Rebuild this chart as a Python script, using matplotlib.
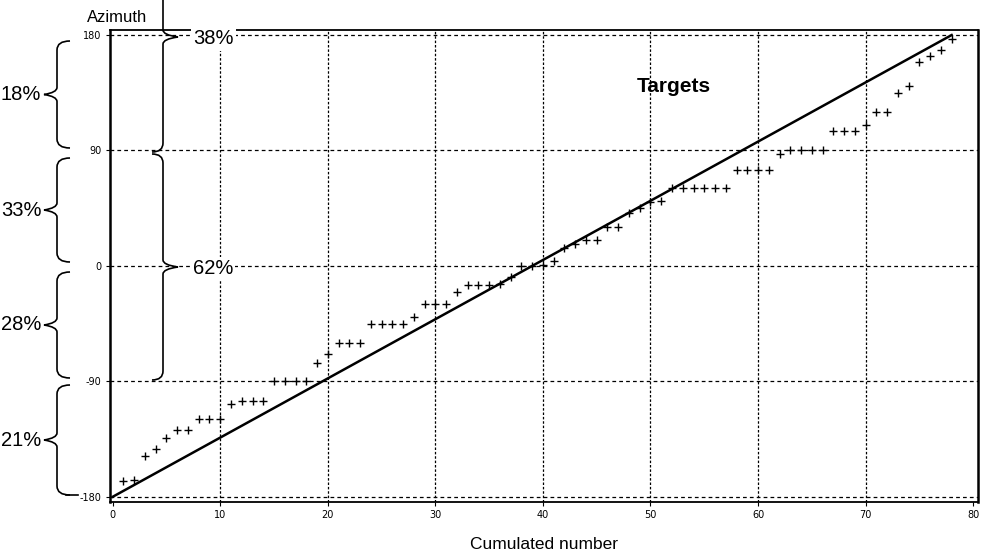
import numpy as np
import matplotlib
matplotlib.use("Agg")
import matplotlib.pyplot as plt
from matplotlib.path import Path
from matplotlib.patches import PathPatch

# --- DATA ---
# sorted target azimuths (deg), one per cumulated target
azimuth = [
    -168, -167, -148, -143, -134, -128, -128, -119, -119, -119,
    -108, -105, -105, -105, -90, -90, -90, -90, -76, -69,
    -60, -60, -60, -45, -45, -45, -45, -40, -30, -30,
    -30, -20, -15, -15, -15, -14, -9, 0, 0, 1,
    4, 14, 17, 20, 20, 30, 30, 41, 45, 50,
    51, 61, 61, 61, 61, 61, 61, 75, 75, 75,
    75, 87, 90, 90, 90, 90, 105, 105, 105, 110,
    120, 120, 135, 140, 159, 164, 168, 177,
]
x_ticks = [0, 10, 20, 30, 40, 50, 60, 70, 80]
y_ticks = [-180, -90, 0, 90, 180]
y_tick_labels = ["-180", "-90", "0", "90", "180"]

# share of targets per 90 deg sector (bottom to top) and per half
sector_pct = ["21%", "28%", "33%", "18%"]
half_pct = ["62%", "38%"]

n_targets = len(azimuth)
cum_number = np.arange(1, n_targets + 1)

plt.rcParams['font.family'] = ['Liberation Sans', 'DejaVu Sans']

fig = plt.figure(figsize=(10, 5.54), dpi=100)
ax = fig.add_axes([0.110, 0.094, 0.868, 0.852])

ax.plot([0, n_targets], [-180, 180], color="black", lw=1.8, zorder=3)
ax.plot(cum_number, azimuth, linestyle="none", marker="+", color="black",
        markersize=6, markeredgewidth=1.0, zorder=4)

ax.set_xlim(-0.25, 80.45)
ax.set_ylim(-184, 184)
ax.set_xticks(x_ticks)
ax.set_xticklabels([str(t) for t in x_ticks], fontsize=7, family="DejaVu Sans")
ax.set_yticks(y_ticks)
ax.set_yticklabels(y_tick_labels, fontsize=7, family="DejaVu Sans")
ax.tick_params(length=3, width=0.8, pad=3)

for yv in y_ticks:
    ax.axhline(yv, color="black", lw=0.9, ls=(0, (3, 2.5)), zorder=1)
for xv in x_ticks[1:-1]:
    ax.axvline(xv, color="black", lw=0.9, ls=(0, (2, 1.5)), zorder=1)

for side in ["left", "right"]:
    ax.spines[side].set_linewidth(1.8)
for side in ["top", "bottom"]:
    ax.spines[side].set_linewidth(1.3)

ax.set_xlabel("Cumulated number", fontsize=12.5, labelpad=12)
ax.text(0.65, 0.88, "Targets", transform=ax.transAxes, fontsize=15,
        fontweight="bold", ha="center", va="center")

# --- overlay in pixel coords for the braces ---
ov = fig.add_axes([0, 0, 1, 1])
ov.set_xlim(0, 1000)
ov.set_ylim(554, 0)
ov.axis("off")
ov.patch.set_alpha(0)


def brace(y0, y1, x_end, x_body, x_tip, r=9):
    ym = (y0 + y1) / 2
    verts = [
        (x_end, y0), (x_body, y0), (x_body, y0 + r),
        (x_body, ym - 7),
        (x_body, ym - 2), (x_tip, ym),
        (x_body, ym + 2), (x_body, ym + 7),
        (x_body, y1 - r),
        (x_body, y1), (x_end, y1),
    ]
    codes = [Path.MOVETO, Path.CURVE3, Path.CURVE3, Path.LINETO,
             Path.CURVE3, Path.CURVE3, Path.CURVE3, Path.CURVE3,
             Path.LINETO, Path.CURVE3, Path.CURVE3]
    ov.add_patch(PathPatch(Path(verts, codes), fill=False, lw=1.2,
                           edgecolor="black", clip_on=False))
    return ym


# left braces: one per 90 deg sector
sector_spans = [(385, 495), (272, 378), (158, 262), (41, 148)]
for (a, b), lab in zip(sector_spans, sector_pct):
    ym = brace(a, b, 70, 57, 44)
    ov.text(21, ym, lab, fontsize=14.5, ha="center", va="center")
ov.plot([66, 78], [495, 495], color="black", lw=1.2)

# right braces: the two halves
half_spans = [(154, 380), (-78, 152)]
for (a, b), lab in zip(half_spans, half_pct):
    ym = brace(a, b, 152, 163, 178)
    ov.text(193, ym + 2, lab, fontsize=14.5, ha="left", va="center",
            bbox=dict(facecolor="white", edgecolor="none", pad=1.5))

ov.text(117, 18, "Azimuth", fontsize=12, ha="center", va="center")

fig.savefig("out.png", dpi=100)
